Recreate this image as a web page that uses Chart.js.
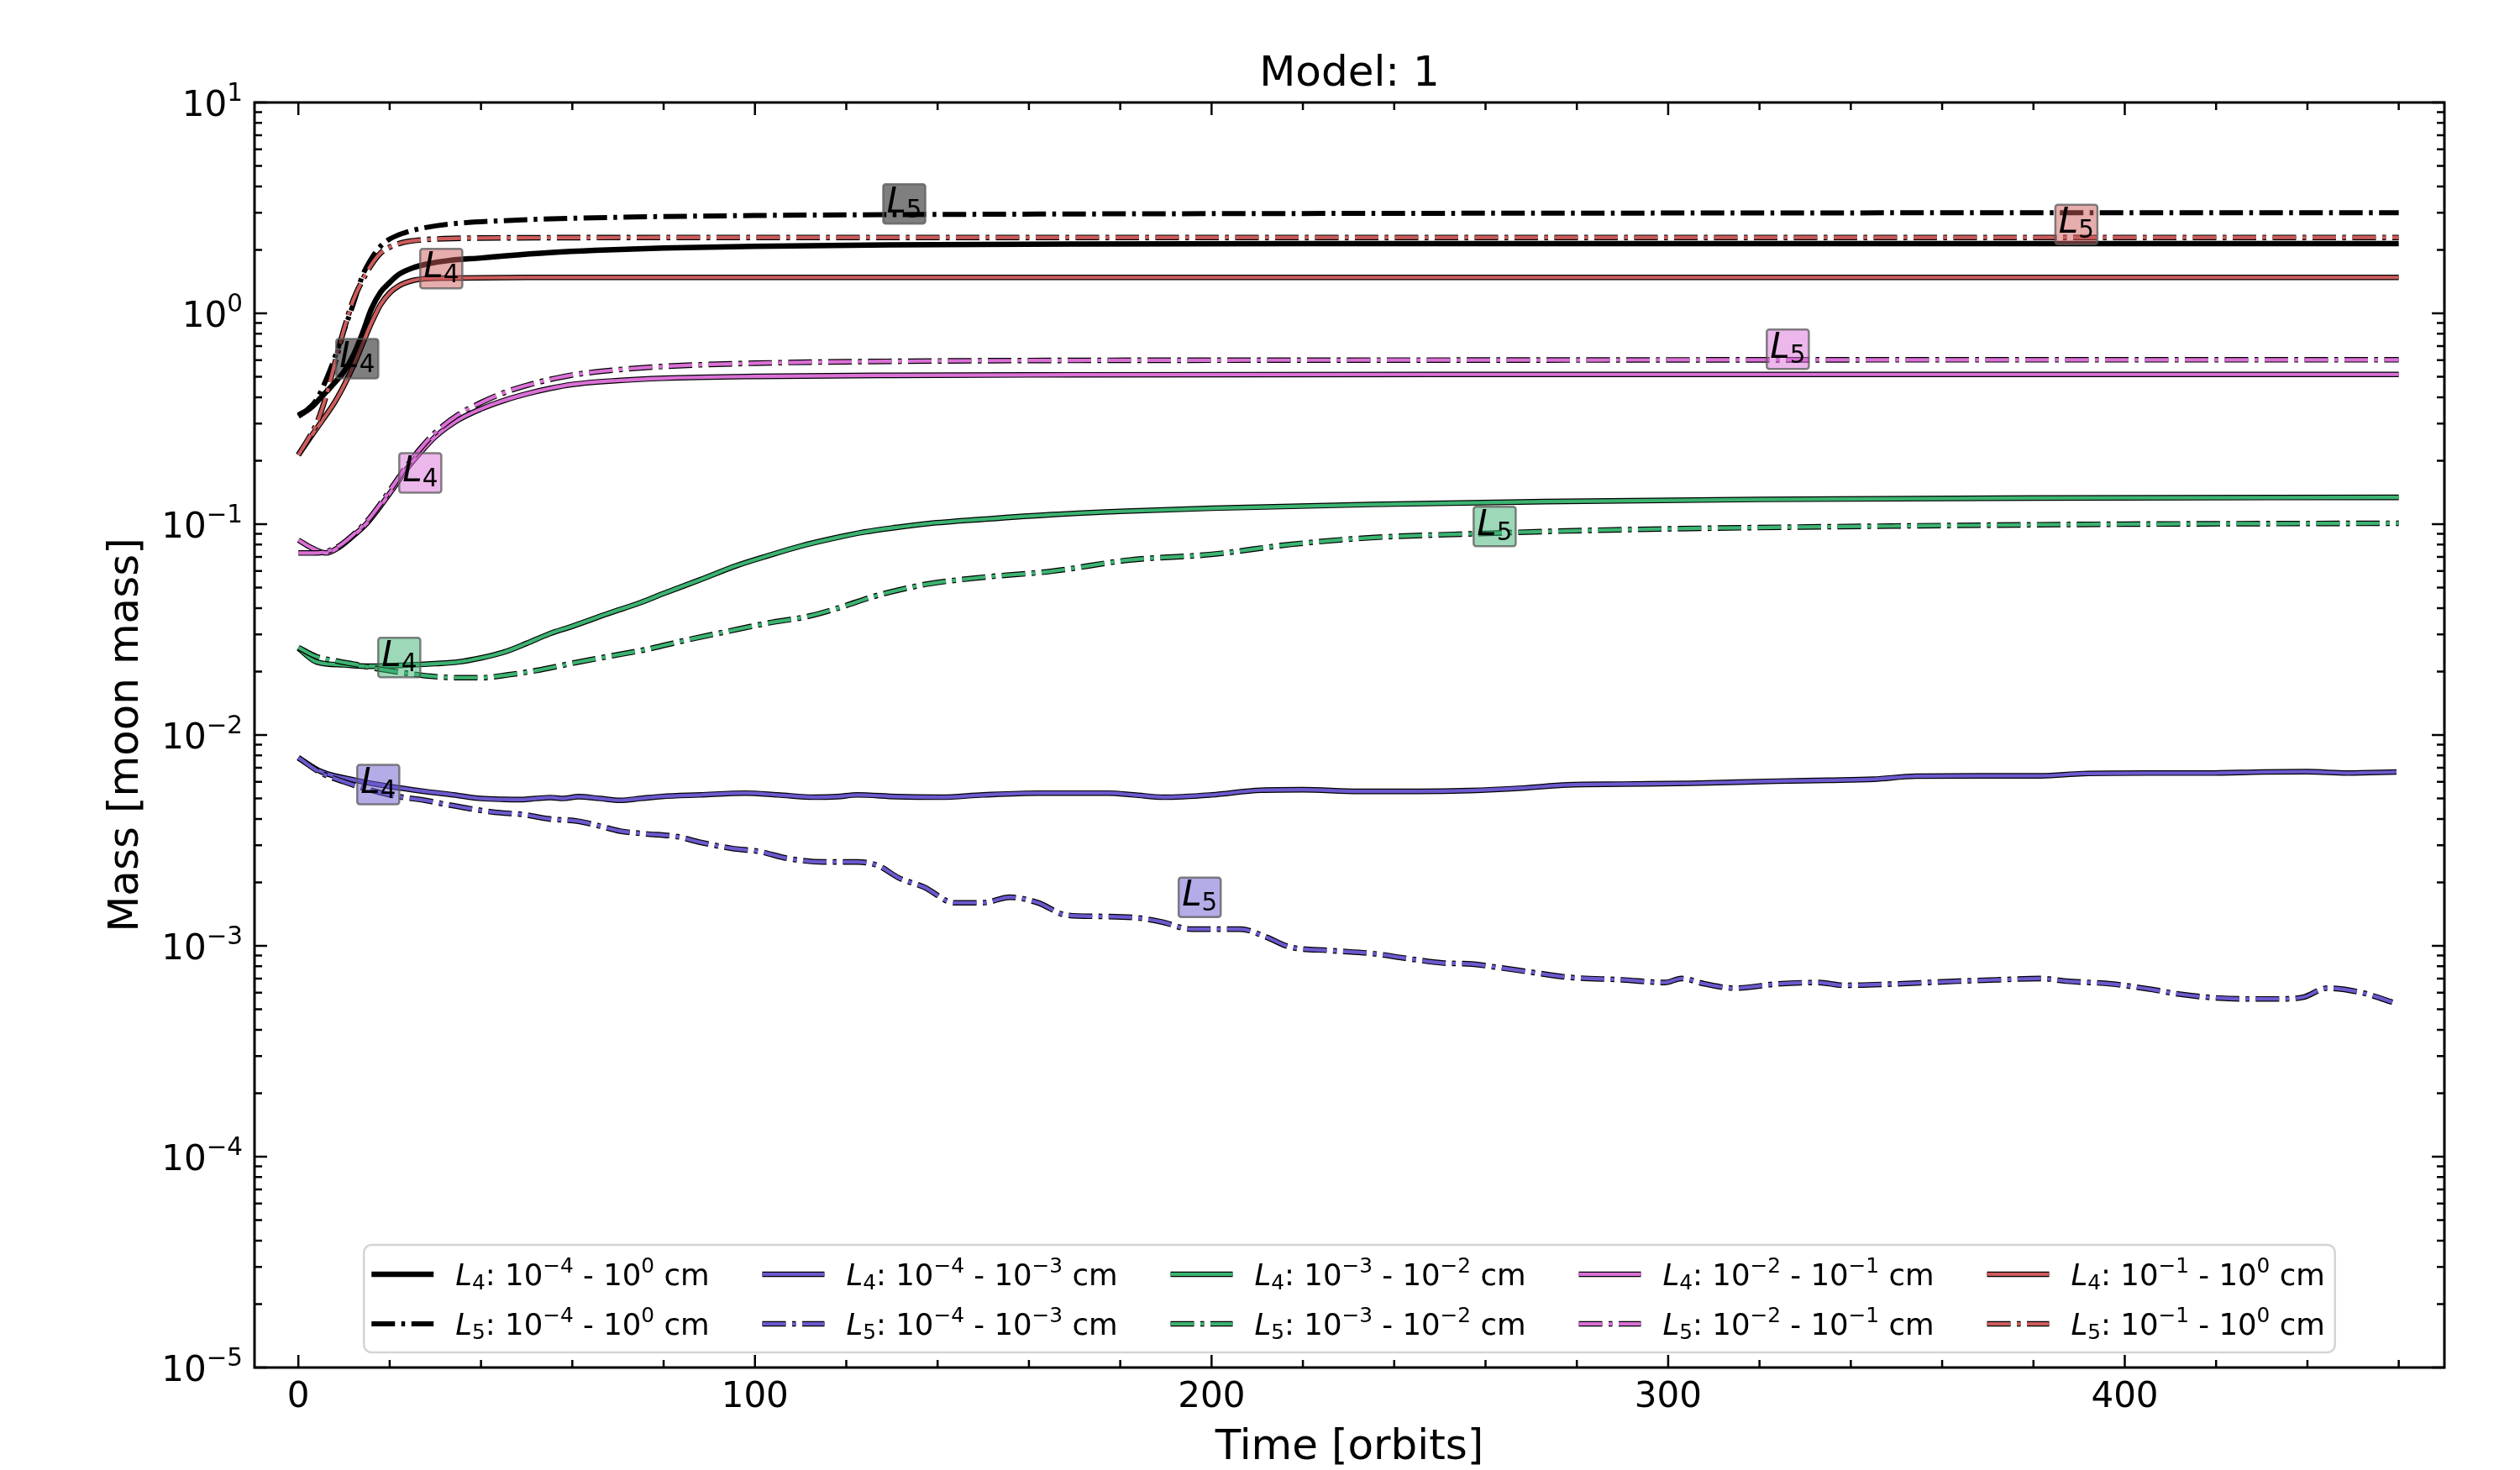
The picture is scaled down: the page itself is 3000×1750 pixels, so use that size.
<!DOCTYPE html>
<html><head><meta charset="utf-8">
<script src="https://cdn.jsdelivr.net/npm/chart.js@4.4.1/dist/chart.umd.min.js"></script>
<style>html,body{margin:0;padding:0;background:#fff;}canvas{display:block;}</style>
</head><body>
<canvas id="c" width="3000" height="1750"></canvas>
<script>
// ---------------- data ----------------
const chartTitle = 'Model: 1';
const xAxisTitle = 'Time [orbits]';
const yAxisTitle = 'Mass [moon mass]';
const groupColors = ['#000000', '#6a5acd', '#3cb371', '#da70d6', '#cd5c5c'];
const groupLo = [-4, -4, -3, -2, -1];
const groupHi = [0, -3, -2, -1, 0];
const xMajorTicks = [0, 100, 200, 300, 400];
const yTickExponents = [-5, -4, -3, -2, -1, 0, 1];

// 10^-4 - 10^0 cm (black)
const tBlackL4 = [0, 3, 5, 8, 10, 12, 14, 16, 18, 20, 22, 25, 28, 33, 40, 45, 55, 65, 80, 100, 130, 170, 220, 300, 380, 460];
const mBlackL4 = [0.325, 0.36, 0.40, 0.47, 0.53, 0.63, 0.80, 1.05, 1.26, 1.40, 1.53, 1.64, 1.71, 1.78, 1.83, 1.87, 1.94, 1.99, 2.04, 2.08, 2.11, 2.13, 2.14, 2.14, 2.14, 2.14];
const tBlackL5 = [0, 2, 4, 6, 8, 10, 12, 14, 16, 18, 20, 23, 27, 33, 45, 65, 100, 150, 200, 300, 400, 460];
const mBlackL5 = [0.33, 0.35, 0.39, 0.48, 0.62, 0.83, 1.10, 1.50, 1.82, 2.08, 2.25, 2.40, 2.53, 2.65, 2.75, 2.84, 2.91, 2.95, 2.97, 2.99, 3.0, 3.0];
// 10^-4 - 10^-3 cm (blue)
const tBlueL4 = [0, 5, 12.5, 20, 27.7, 34, 40, 45, 49, 52, 55.2, 58, 61.3, 66, 70.5, 75, 79.6, 88, 97.9, 105, 113, 118, 122.4, 131, 140.6, 150, 162, 170, 177.3, 183, 189.5, 200, 210.8, 220, 232.2, 245, 256.6, 268, 278, 290, 305, 323.7, 335, 345, 354.2, 368, 381.7, 390.8, 405, 418, 430.5, 440, 448.8, 459.5];
const mBlueL4 = [0.0078, 0.0067, 0.0061, 0.0057, 0.0054, 0.0052, 0.0050, 0.00495, 0.00494, 0.0050, 0.00505, 0.0050, 0.0051, 0.0050, 0.0049, 0.0050, 0.00511, 0.0052, 0.0053, 0.0052, 0.00507, 0.0051, 0.0052, 0.0051, 0.00507, 0.0052, 0.0053, 0.0053, 0.0053, 0.0052, 0.00507, 0.0052, 0.00547, 0.0055, 0.0054, 0.0054, 0.00545, 0.0056, 0.0058, 0.00585, 0.0059, 0.00604, 0.0061, 0.00617, 0.00638, 0.0064, 0.0064, 0.00656, 0.0066, 0.0066, 0.00668, 0.0067, 0.0066, 0.00668];
const tBlueL5 = [0, 5, 10, 15.5, 22, 27.7, 32, 36.9, 43, 49.1, 55, 61.3, 66, 70.5, 76, 82.7, 88, 94.9, 101, 107.1, 115, 122.4, 127, 131.5, 137, 143.7, 149.8, 155.9, 162, 168.1, 175, 183.4, 189, 195.6, 206.3, 212, 217, 226, 235.2, 243, 250.5, 257, 262.7, 270, 278, 290, 299.3, 302.9, 308, 314.6, 324, 332.9, 338.4, 350, 363.4, 372, 381.7, 387.2, 397, 406.1, 412, 418.3, 426, 433.6, 439, 444.3, 451.9, 458.6];
const mBlueL5 = [0.0078, 0.0066, 0.0060, 0.0055, 0.0051, 0.0049, 0.0047, 0.0045, 0.0043, 0.0042, 0.0040, 0.0039, 0.0037, 0.0035, 0.0034, 0.0033, 0.0031, 0.0029, 0.0028, 0.0026, 0.0025, 0.0025, 0.0024, 0.0021, 0.0019, 0.0016, 0.0016, 0.0017, 0.0016, 0.0014, 0.00138, 0.00136, 0.0013, 0.0012, 0.0012, 0.0011, 0.00099, 0.00095, 0.00092, 0.00087, 0.00083, 0.00082, 0.00079, 0.00075, 0.00071, 0.00069, 0.00067, 0.0007, 0.00066, 0.00063, 0.00066, 0.00067, 0.00065, 0.00066, 0.00068, 0.00069, 0.0007, 0.00068, 0.00066, 0.00062, 0.00059, 0.00057, 0.00056, 0.00056, 0.00057, 0.00063, 0.0006, 0.00054];
// 10^-3 - 10^-2 cm (green)
const tGreenL4 = [0, 4, 10, 15, 20, 25, 30, 35, 40, 45, 50, 55, 60, 68, 75, 80, 88, 96, 103, 110, 117, 124, 131, 138, 150, 165, 180, 200, 235, 273, 320, 380, 460];
const mGreenL4 = [0.0258, 0.0222, 0.0215, 0.0212, 0.0213, 0.0215, 0.0218, 0.0222, 0.0232, 0.0247, 0.0272, 0.0302, 0.0328, 0.0378, 0.0425, 0.0469, 0.0545, 0.0636, 0.071, 0.0787, 0.0855, 0.0918, 0.0965, 0.1007, 0.1055, 0.111, 0.115, 0.119, 0.124, 0.128, 0.131, 0.133, 0.134];
const tGreenL5 = [0, 4, 8, 13, 18, 24, 29, 35, 40, 46, 52, 61, 68, 76, 85, 94, 103, 112, 119, 126, 132, 138, 150, 165, 182, 200, 217, 235, 260, 273, 300, 350, 400, 460];
const mGreenL5 = [0.026, 0.0235, 0.0225, 0.0215, 0.0205, 0.0196, 0.019, 0.0187, 0.0187, 0.0193, 0.0202, 0.0221, 0.0236, 0.0254, 0.0282, 0.031, 0.034, 0.0367, 0.0405, 0.0454, 0.049, 0.0521, 0.056, 0.0598, 0.0676, 0.0719, 0.080, 0.0863, 0.0904, 0.0923, 0.095, 0.098, 0.1, 0.101];
// 10^-2 - 10^-1 cm (pink)
const tPinkL4 = [0, 3, 6, 9, 12, 15, 18, 21, 24, 27, 30, 35, 40, 45, 50, 55, 60, 70, 80, 100, 130, 170, 250, 350, 460];
const mPinkL4 = [0.084, 0.077, 0.073, 0.078, 0.088, 0.101, 0.122, 0.150, 0.186, 0.222, 0.260, 0.312, 0.352, 0.386, 0.415, 0.440, 0.460, 0.480, 0.492, 0.502, 0.508, 0.511, 0.513, 0.513, 0.513];
const tPinkL5 = [0, 3, 6, 9, 12, 15, 18, 21, 24, 27, 30, 35, 40, 45, 50, 55, 60, 70, 80, 100, 130, 170, 250, 350, 460];
const mPinkL5 = [0.073, 0.073, 0.074, 0.079, 0.089, 0.103, 0.125, 0.155, 0.192, 0.232, 0.272, 0.330, 0.377, 0.420, 0.455, 0.485, 0.510, 0.540, 0.560, 0.580, 0.592, 0.598, 0.600, 0.602, 0.602];
// 10^-1 - 10^0 cm (red)
const tRedL4 = [0, 3, 5, 8, 10, 12, 14, 16, 18, 20, 22, 25, 28, 35, 50, 100, 200, 300, 460];
const mRedL4 = [0.213, 0.265, 0.305, 0.38, 0.455, 0.56, 0.71, 0.90, 1.10, 1.25, 1.35, 1.43, 1.46, 1.47, 1.48, 1.48, 1.48, 1.48, 1.48];
const tRedL5 = [0, 2, 4, 6, 8, 10, 12, 14, 16, 18, 20, 23, 27, 32, 45, 100, 200, 300, 460];
const mRedL5 = [0.213, 0.25, 0.30, 0.40, 0.58, 0.84, 1.15, 1.43, 1.70, 1.93, 2.06, 2.17, 2.23, 2.26, 2.28, 2.29, 2.29, 2.29, 2.29];

// annotation boxes (L4 / L5 tags)
const tagGroup = [0, 4, 3, 2, 1, 0, 4, 3, 2, 1];
const tagLagrange = [4, 4, 4, 4, 4, 5, 5, 5, 5, 5];
const tagTime = [12.9, 31.3, 26.7, 22.1, 17.5, 132.7, 389.4, 326.2, 262.0, 197.4];
const tagMass = [0.61, 1.63, 0.175, 0.0233, 0.00582, 3.3, 2.64, 0.676, 0.0976, 0.0017];

const seriesTimes = [[tBlackL4, tBlackL5], [tBlueL4, tBlueL5], [tGreenL4, tGreenL5], [tPinkL4, tPinkL5], [tRedL4, tRedL5]];
const seriesMasses = [[mBlackL4, mBlackL5], [mBlueL4, mBlueL5], [mGreenL4, mGreenL5], [mPinkL4, mPinkL5], [mRedL4, mRedL5]];

// ---------------- styling ----------------
const FONT = '"DejaVu Sans"';
const DASHDOT = [28, 7.5, 4.5, 7.5];
function supTxt(e) { return e < 0 ? '\u2212' + (-e) : String(e); }
function fontFor(kind, size) {
  const s = (kind === 'sub' || kind === 'sup') ? size * 0.7 : size;
  return (kind === 'i' ? 'italic ' : '') + s.toFixed(1) + 'px ' + FONT;
}
function measureRich(ctx, parts, size) {
  let w = 0;
  for (const [t, k] of parts) { ctx.font = fontFor(k, size); w += ctx.measureText(t).width; }
  return w;
}
function drawRich(ctx, parts, x, y, size) {
  let cx = x;
  ctx.textAlign = 'left'; ctx.textBaseline = 'alphabetic';
  for (const [t, k] of parts) {
    ctx.font = fontFor(k, size);
    const dy = k === 'sub' ? 0.15 * size : (k === 'sup' ? -0.42 * size : 0);
    ctx.fillText(t, cx, y + dy);
    cx += ctx.measureText(t).width;
  }
  return cx;
}
function legendParts(g, lag) {
  return [['L', 'i'], [String(lag), 'sub'], [': 10', 'n'], [supTxt(groupLo[g]), 'sup'], [' - 10', 'n'], [supTxt(groupHi[g]), 'sup'], [' cm', 'n']];
}
function hexA(hex, a) {
  const n = parseInt(hex.slice(1), 16);
  return `rgba(${(n >> 16) & 255},${(n >> 8) & 255},${n & 255},${a})`;
}

const datasets = [];
let k = 0;
for (let g = 0; g < 5; g++) {
  for (let li = 0; li < 2; li++) {
    const lag = li + 4;
    const pts = seriesTimes[g][li].map((t, i) => ({ x: t, y: seriesMasses[g][li][i] }));
    const dash = li === 1 ? DASHDOT : [];
    const isBlack = g === 0;
    const w = isBlack ? (li ? 6 : 6.5) : 4.2;
    const common = { data: pts, pointRadius: 0, fill: false, cubicInterpolationMode: 'monotone', borderCapStyle: 'butt', borderJoinStyle: 'round', borderDash: dash, grp: g, lag: lag };
    if (!isBlack) {
      datasets.push(Object.assign({}, common, { label: '_outline', borderColor: '#000000', borderWidth: w + 2.4, order: 101 - 2 * k, outline: true }));
    }
    datasets.push(Object.assign({}, common, {
      label: 'L' + lag + ': 10^' + groupLo[g] + ' - 10^' + groupHi[g] + ' cm',
      borderColor: groupColors[g], borderWidth: w, order: 100 - 2 * k, outline: false
    }));
    k++;
  }
}

const decorPlugin = {
  id: 'mplDecor',
  afterDatasetsDraw(chart) {
    const ctx = chart.ctx;
    const { left, right, top, bottom } = chart.chartArea;
    const xs = chart.scales.x, ys = chart.scales.y;
    ctx.save();
    // frame
    ctx.strokeStyle = '#000'; ctx.lineWidth = 3;
    ctx.strokeRect(left, top, right - left, bottom - top);
    // ticks (inward, all four sides)
    ctx.lineWidth = 2.5;
    const MAJ = 15, MIN = 9;
    function vtick(px, len) {
      ctx.beginPath(); ctx.moveTo(px, bottom); ctx.lineTo(px, bottom - len);
      ctx.moveTo(px, top); ctx.lineTo(px, top + len); ctx.stroke();
    }
    function htick(py, len) {
      ctx.beginPath(); ctx.moveTo(left, py); ctx.lineTo(left + len, py);
      ctx.moveTo(right, py); ctx.lineTo(right - len, py); ctx.stroke();
    }
    for (const v of xMajorTicks) vtick(xs.getPixelForValue(v), MAJ);
    for (let v = 20; v <= xs.max; v += 20) { if (v % 100 !== 0) vtick(xs.getPixelForValue(v), MIN); }
    for (let v = -20; v >= xs.min; v -= 20) vtick(xs.getPixelForValue(v), MIN);
    for (const e of yTickExponents) {
      htick(ys.getPixelForValue(Math.pow(10, e)), MAJ);
      if (e < yTickExponents[yTickExponents.length - 1]) {
        for (let m = 2; m <= 9; m++) htick(ys.getPixelForValue(m * Math.pow(10, e)), MIN);
      }
    }
    // y tick labels (mathtext style)
    ctx.fillStyle = '#000';
    const TS = 42;
    for (const e of yTickExponents) {
      const parts = [['10', 'n'], [supTxt(e), 'sup']];
      const w = measureRich(ctx, parts, TS);
      const py = ys.getPixelForValue(Math.pow(10, e));
      drawRich(ctx, parts, left - 14 - w, py + 16, TS);
    }
    // tag boxes
    const AS = 42;
    for (let i = 0; i < tagTime.length; i++) {
      const px = xs.getPixelForValue(tagTime[i]);
      const py = ys.getPixelForValue(tagMass[i]);
      const parts = [['L', 'i'], [String(tagLagrange[i]), 'sub']];
      const w = measureRich(ctx, parts, AS);
      const bw = w + 8, bh = 47;
      ctx.beginPath();
      ctx.roundRect(px - bw / 2, py - bh / 2, bw, bh, 3);
      ctx.fillStyle = hexA(groupColors[tagGroup[i]], 0.5);
      ctx.fill();
      ctx.strokeStyle = 'rgba(90,90,90,0.75)'; ctx.lineWidth = 2.5; ctx.stroke();
      ctx.fillStyle = '#000';
      drawRich(ctx, parts, px - w / 2, py + 10, AS);
    }
    // legend
    const LS = 35.5, HL = 74, HG = 26, CS = 63, PADL = 9, PADR = 12;
    const colW = [];
    for (let g = 0; g < 5; g++) {
      colW.push(Math.max(measureRich(ctx, legendParts(g, 4), LS), measureRich(ctx, legendParts(g, 5), LS)));
    }
    let total = PADL + PADR + CS * 4;
    for (const w of colW) total += HL + HG + w;
    const cx = (left + right) / 2;
    const bx = cx - total / 2, bBottom = bottom - 18, bTop = bBottom - 128;
    ctx.beginPath();
    ctx.roundRect(bx, bTop, total, bBottom - bTop, 9);
    ctx.fillStyle = 'rgba(255,255,255,0.85)'; ctx.fill();
    ctx.strokeStyle = '#d4d4d4'; ctx.lineWidth = 2.5; ctx.stroke();
    const rowY = [bTop + 35, bTop + 94];
    let x = bx + PADL;
    for (let g = 0; g < 5; g++) {
      for (let li = 0; li < 2; li++) {
        const lag = li + 4;
        const y = rowY[li];
        const dss = chart.data.datasets.filter(d => d.grp === g && d.lag === lag);
        for (const d of dss.filter(d => d.outline).concat(dss.filter(d => !d.outline))) {
          ctx.beginPath();
          ctx.setLineDash(d.borderDash);
          ctx.lineCap = 'butt';
          ctx.strokeStyle = d.borderColor; ctx.lineWidth = d.borderWidth;
          ctx.moveTo(x, y); ctx.lineTo(x + HL, y); ctx.stroke();
        }
        ctx.setLineDash([]);
        ctx.fillStyle = '#000';
        drawRich(ctx, legendParts(g, lag), x + HL + HG, y + 12.5, LS);
      }
      x += HL + HG + colW[g] + CS;
    }
    ctx.restore();
  }
};

new Chart(document.getElementById('c'), {
  type: 'line',
  data: { datasets: datasets },
  options: {
    responsive: false,
    devicePixelRatio: 1,
    animation: false,
    events: [],
    layout: { padding: { left: 0, right: 90, top: 0, bottom: 0 } },
    plugins: {
      legend: { display: false },
      tooltip: { enabled: false },
      title: {
        display: true, text: chartTitle, fullSize: false, color: '#000',
        font: { family: 'DejaVu Sans', size: 50, weight: 'normal' },
        padding: { top: 59, bottom: 3 }
      }
    },
    scales: {
      x: {
        type: 'linear', min: -9.6, max: 470,
        grid: { display: false, drawTicks: false },
        border: { display: false },
        afterBuildTicks: (s) => { s.ticks = xMajorTicks.map(v => ({ value: v })); },
        afterFit: (s) => { s.height = 122; },
        ticks: { color: '#000', font: { family: 'DejaVu Sans', size: 42 }, padding: 11, autoSkip: false, maxRotation: 0, callback: (v) => String(v) },
        title: { display: true, text: xAxisTitle, color: '#000', font: { family: 'DejaVu Sans', size: 50 }, padding: { top: 0, bottom: -4 } }
      },
      y: {
        type: 'logarithmic', min: 1e-5, max: 10,
        grid: { display: false, drawTicks: false },
        border: { display: false },
        afterBuildTicks: (s) => { s.ticks = yTickExponents.map(e => ({ value: Math.pow(10, e) })); },
        afterFit: (s) => { s.width = 303; },
        ticks: { display: false },
        title: { display: true, text: yAxisTitle, color: '#000', font: { family: 'DejaVu Sans', size: 50 }, padding: { top: 121, bottom: 0 } }
      }
    }
  },
  plugins: [decorPlugin]
});
</script>
</body></html>
